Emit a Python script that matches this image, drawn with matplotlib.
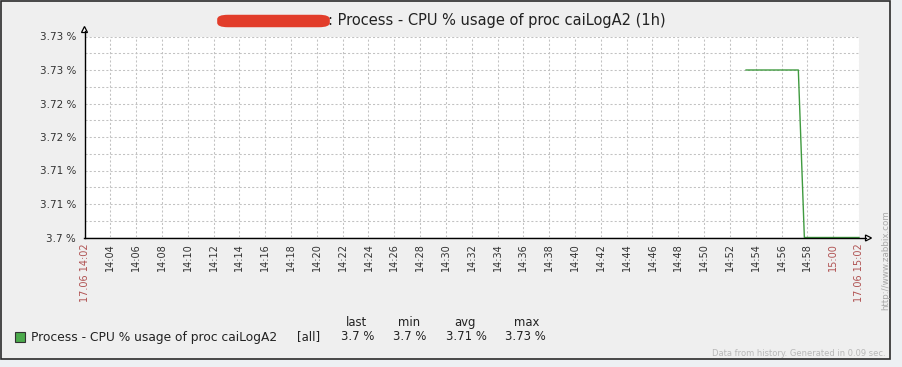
import matplotlib
matplotlib.use("Agg")
import matplotlib.pyplot as plt
from matplotlib.patches import Rectangle, Polygon, FancyBboxPatch
from matplotlib.lines import Line2D
import numpy as np

# ---------------- data ----------------
start_time = "14:02:00"
end_time = "15:02:00"
sample_times = ["14:53:15", "14:57:18", "14:57:46", "15:02:00"]
cpu_values = [3.725, 3.725, 3.700, 3.700]

y_ticks = [3.700, 3.705, 3.710, 3.715, 3.720, 3.725, 3.730]
y_tick_labels = ["3.7 %", "3.71 %", "3.71 %", "3.72 %", "3.72 %", "3.73 %", "3.73 %"]

x_tick_labels = ["17.06 14:02", "14:04", "14:06", "14:08", "14:10", "14:12", "14:14",
                 "14:16", "14:18", "14:20", "14:22", "14:24", "14:26", "14:28",
                 "14:30", "14:32", "14:34", "14:36", "14:38", "14:40", "14:42",
                 "14:44", "14:46", "14:48", "14:50", "14:52", "14:54", "14:56",
                 "14:58", "15:00", "17.06 15:02"]
red_labels = ["17.06 14:02", "15:00", "17.06 15:02"]

title_text = ": Process - CPU % usage of proc caiLogA2 (1h)"
legend_name = "Process - CPU % usage of proc caiLogA2"
legend_func = "[all]"
legend_headers = ["last", "min", "avg", "max"]
legend_values = ["3.7 %", "3.7 %", "3.71 %", "3.73 %"]
footer_text = "Data from history. Generated in 0.09 sec."
side_text = "http://www.zabbix.com"


def to_min(t):
    h, m, s = [int(v) for v in t.split(":")]
    h0, m0, s0 = [int(v) for v in start_time.split(":")]
    return (h * 3600 + m * 60 + s - (h0 * 3600 + m0 * 60 + s0)) / 60.0


W, H = 902, 367
fig = plt.figure(figsize=(W / 100, H / 100), dpi=100, facecolor="#edf0f3")


def fx(x):
    return x / W


def fy(y):
    return 1 - y / H


# outer frame
fig.add_artist(Rectangle((fx(0.5), fy(359)), fx(889.5), (359 - 1) / H,
                         transform=fig.transFigure, facecolor="#efefef",
                         edgecolor="#2b2b2b", lw=1.2, zorder=0))

L, R, T, B = 84.5, 859, 36.5, 237.5
ax = fig.add_axes([fx(L), fy(B), (R - L) / W, (B - T) / H])
ax.set_facecolor("white")
for s in ax.spines.values():
    s.set_visible(False)

xs = [to_min(t) for t in sample_times]
ax.plot(xs, cpu_values, color="#3f9a3f", lw=1.0, zorder=3, clip_on=False)

total = to_min(end_time)
ax.set_xlim(0, total)
ax.set_ylim(y_ticks[0], y_ticks[-1])

xt = np.arange(0, total + 0.01, 2)
ax.set_xticks(xt)
ax.set_xticklabels(x_tick_labels, rotation=90, fontsize=7.0, va="top", ha="center")
for lab in ax.get_xticklabels():
    lab.set_color("#b05252" if lab.get_text() in red_labels else "#333333")
ax.set_yticks(y_ticks)
ax.set_yticklabels(y_tick_labels, fontsize=7.5, color="#333333")
ax.set_yticks([v + 0.0025 for v in y_ticks[:-1]], minor=True)
ax.tick_params(axis="both", which="both", length=0)
ax.tick_params(axis="y", pad=6)
ax.tick_params(axis="x", pad=4)
ax.grid(True, which="both", color="#c2c2c2", linestyle=(0, (2, 2)), lw=0.75)
ax.set_axisbelow(True)

# axis lines with open arrow heads
fig.add_artist(Line2D([fx(84.5), fx(84.5)], [fy(238), fy(31)], transform=fig.transFigure,
                      color="black", lw=1.0))
fig.add_artist(Line2D([fx(84), fx(866)], [fy(238), fy(238)], transform=fig.transFigure,
                      color="black", lw=1.0))
fig.add_artist(Polygon([(fx(81.5), fy(32.5)), (fx(87.5), fy(32.5)), (fx(84.5), fy(26.5))],
                       closed=True, transform=fig.transFigure, facecolor="white",
                       edgecolor="black", lw=0.9))
fig.add_artist(Polygon([(fx(865.5), fy(235)), (fx(865.5), fy(241)), (fx(871.5), fy(238))],
                       closed=True, transform=fig.transFigure, facecolor="white",
                       edgecolor="black", lw=0.9))

# title with redacted host name
fig.add_artist(FancyBboxPatch((fx(219), fy(26.5)), (328 - 219) / W, 11 / H,
                              boxstyle="round,pad=0.002,rounding_size=0.012",
                              transform=fig.transFigure, facecolor="#e2331f",
                              edgecolor="none", alpha=0.95))
fig.text(fx(328), fy(20.5), title_text, fontsize=10.5, color="#222222",
         ha="left", va="center")

# legend
fig.add_artist(Rectangle((fx(15), fy(342)), 10 / W, 10 / H, transform=fig.transFigure,
                         facecolor="#4caa4c", edgecolor="#333333", lw=0.8))
fig.text(fx(31), fy(337), legend_name, fontsize=8.8, color="#222222", ha="left", va="center")
fig.text(fx(309), fy(337), legend_func, fontsize=8.4, color="#222222", ha="center", va="center")
head_x = [356, 409, 465, 527]
val_x = [358, 410, 466, 525]
for hx, h in zip(head_x, legend_headers):
    fig.text(fx(hx), fy(322.5), h, fontsize=8.4, color="#222222", ha="center", va="center")
for vx, v in zip(val_x, legend_values):
    fig.text(fx(vx), fy(337), v, fontsize=8.4, color="#222222", ha="center", va="center")

fig.text(fx(886), fy(354), footer_text, fontsize=6.0, color="#b8b8b8", ha="right", va="center")
fig.text(fx(886), fy(260), side_text, fontsize=6.3, color="#a8a8a8", rotation=90,
         ha="center", va="center")

fig.savefig("out.png", dpi=100, facecolor=fig.get_facecolor())
